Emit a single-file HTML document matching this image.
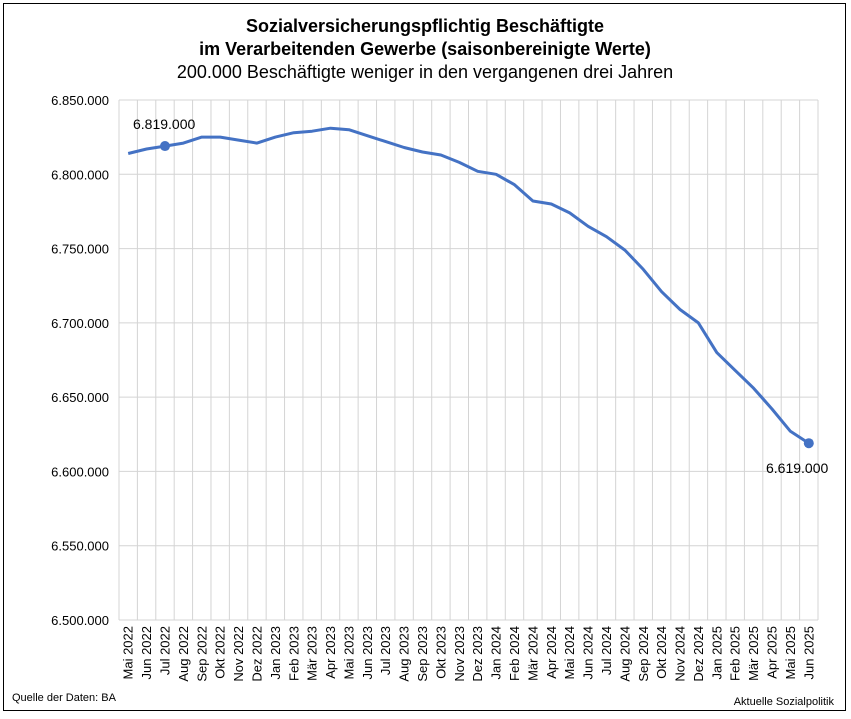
<!DOCTYPE html>
<html><head><meta charset="utf-8"><style>
body{margin:0;background:#fff;}
#f{position:absolute;left:3px;top:3px;width:843px;height:708px;border:1.5px solid #000;box-sizing:border-box;}
text{font-family:"Liberation Sans",Arial,sans-serif;}
</style></head><body>
<div id="f"></div>
<svg id="s" width="851" height="719" style="position:absolute;left:0;top:0"></svg>
<script>
const v=[6814,6817,6819,6821,6825,6825,6823,6821,6825,6828,6829,6831,6830,6826,6822,6818,6815,6813,6808,6802,6800,6793,6782,6780,6774,6765,6758,6749,6736,6721,6709,6700,6680,6668,6656,6642,6627,6619];
const m=["Jan","Feb","Mär","Apr","Mai","Jun","Jul","Aug","Sep","Okt","Nov","Dez"];
const x0=119,x1=818,y0=100,y1=620,w=(x1-x0)/38;
const Y=val=>y0+(6850-val)*(y1-y0)/350;
let s='';
for(let i=0;i<=38;i++){let x=x0+i*w;s+=`<line x1="${x}" y1="${y0}" x2="${x}" y2="${y1}" stroke="#d4d4d4" stroke-width="1"/>`;}
for(let k=0;k<8;k++){let y=y0+k*(y1-y0)/7;let val=6850-k*50;s+=`<line x1="${x0}" y1="${y}" x2="${x1}" y2="${y}" stroke="#d4d4d4" stroke-width="1"/>`;
s+=`<text x="109" y="${y+5}" text-anchor="end" font-size="13">${String(val).replace(/^(\d)(\d{3})$/,'$1.$2')}.000</text>`;}
let p='';
for(let i=0;i<38;i++){let x=x0+(i+0.5)*w;p+=(i?'L':'M')+x.toFixed(1)+','+Y(v[i]).toFixed(1);
let mi=(i+4)%12,yr=2022+Math.floor((i+4)/12);
s+=`<text transform="translate(${x+4.5},${y1+6}) rotate(-90)" text-anchor="end" font-size="13">${m[mi]} ${yr}</text>`;}
s+=`<path d="${p}" fill="none" stroke="#4472c4" stroke-width="3" stroke-linejoin="round"/>`;
s+=`<circle cx="${x0+2.5*w}" cy="${Y(6819)}" r="5" fill="#4472c4"/><circle cx="${x0+37.5*w}" cy="${Y(6619)}" r="5" fill="#4472c4"/>`;
s+=`<text x="133" y="129" font-size="14">6.819.000</text><text x="766" y="473" font-size="14">6.619.000</text>`;
s+=`<text x="425" y="32" text-anchor="middle" font-size="18" font-weight="bold">Sozialversicherungspflichtig Beschäftigte</text>`;
s+=`<text x="425" y="55" text-anchor="middle" font-size="18" font-weight="bold">im Verarbeitenden Gewerbe (saisonbereinigte Werte)</text>`;
s+=`<text x="425" y="78" text-anchor="middle" font-size="18">200.000 Beschäftigte weniger in den vergangenen drei Jahren</text>`;
s+=`<text x="12" y="701" font-size="11">Quelle der Daten: BA</text><text x="834" y="705" text-anchor="end" font-size="11">Aktuelle Sozialpolitik</text>`;
document.getElementById('s').innerHTML=s;
</script>
</body></html>
